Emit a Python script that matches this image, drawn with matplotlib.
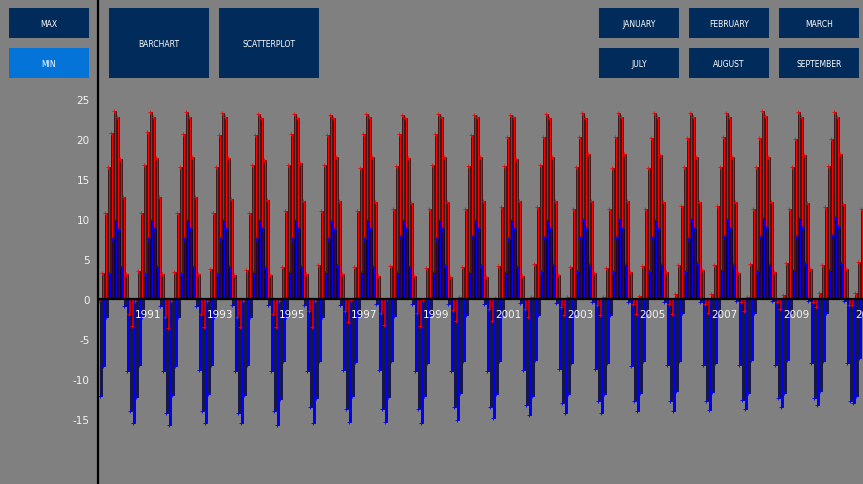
import numpy as np
import matplotlib
matplotlib.use("Agg")
import matplotlib.pyplot as plt
from matplotlib.patches import Rectangle

# ---------------- data ----------------
years = list(range(1990, 2012))
months = ["Jan", "Feb", "Mar", "Apr", "May", "Jun",
          "Jul", "Aug", "Sep", "Oct", "Nov", "Dec"]

max_temps = [
    [-0.2, 3.2, 10.8, 16.5, 20.7, 23.5, 22.8, 17.5, 12.8, 3.1, -1.9, -3.4],  # 1990
    [-0.3, 3.5, 10.8, 16.7, 20.9, 23.4, 22.8, 17.6, 12.7, 3.1, -2.2, -3.6],  # 1991
    [-0.3, 3.4, 10.8, 16.5, 20.6, 23.4, 22.8, 17.8, 12.7, 3.1, -1.9, -3.5],  # 1992
    [-0.2, 3.8, 10.8, 16.5, 20.5, 23.2, 22.7, 17.6, 12.5, 3.0, -2.2, -3.5],  # 1993
    [-0.2, 3.6, 10.8, 16.7, 20.5, 23.1, 22.6, 17.4, 12.4, 3.0, -1.9, -3.5],  # 1994
    [-0.3, 4.0, 11.0, 16.7, 20.6, 23.1, 22.6, 17.0, 12.3, 3.1, -1.5, -3.5],  # 1995
    [-0.2, 4.2, 11.0, 16.7, 20.5, 23.0, 22.6, 17.8, 12.2, 3.1, -1.5, -2.9],  # 1996
    [-0.1, 4.0, 11.0, 16.4, 20.6, 23.1, 22.7, 17.7, 12.1, 2.9, -1.8, -3.3],  # 1997
    [0.0, 4.1, 11.2, 16.6, 20.6, 23.0, 22.6, 17.6, 12.0, 2.9, -1.7, -3.4],   # 1998
    [-0.1, 3.9, 11.3, 16.7, 20.6, 23.1, 22.8, 17.8, 12.1, 2.8, -1.4, -2.8],  # 1999
    [0.2, 4.0, 11.3, 16.6, 20.5, 23.0, 22.7, 17.7, 12.2, 2.8, -1.3, -2.7],   # 2000
    [0.1, 4.1, 11.5, 16.6, 20.3, 23.0, 22.7, 17.5, 12.2, 2.9, -1.2, -2.2],   # 2001
    [0.3, 4.4, 11.5, 16.7, 20.3, 23.1, 22.6, 17.8, 12.2, 3.0, -1.0, -2.0],   # 2002
    [0.2, 4.0, 11.3, 16.5, 20.3, 23.3, 22.6, 18.1, 12.2, 3.2, -0.7, -2.0],   # 2003
    [0.3, 3.9, 11.3, 16.4, 20.3, 23.3, 22.7, 18.1, 12.2, 3.4, -0.6, -1.9],   # 2004
    [0.4, 4.1, 11.3, 16.4, 20.1, 23.3, 22.7, 18.0, 12.1, 3.4, -0.6, -1.9],   # 2005
    [0.6, 4.3, 11.6, 16.5, 20.1, 23.3, 22.8, 17.8, 12.1, 3.6, -0.6, -1.7],   # 2006
    [0.6, 4.2, 11.6, 16.5, 20.3, 23.3, 22.7, 17.8, 12.1, 3.3, -0.4, -1.5],   # 2007
    [0.3, 4.4, 11.3, 16.5, 20.1, 23.5, 22.9, 17.8, 12.1, 3.4, -0.4, -1.2],   # 2008
    [0.5, 4.5, 11.3, 16.5, 20.0, 23.4, 22.8, 18.0, 12.0, 3.7, -0.4, -1.0],   # 2009
    [0.8, 4.2, 11.5, 16.6, 20.0, 23.4, 22.8, 18.1, 11.9, 3.7, -0.7, -0.8],   # 2010
    [0.8, 4.6, 11.3],                                                        # 2011
]

min_temps = [
    [-12.1, -8.4, -2.3, 3.1, 7.5, 9.7, 8.6, 4.0, -0.9, -9.0, -14.0, -15.5],  # 1990
    [-12.2, -8.3, -2.3, 3.1, 7.5, 9.7, 8.7, 4.0, -0.9, -9.0, -14.2, -15.8],  # 1991
    [-12.0, -8.4, -2.3, 3.1, 7.5, 9.7, 8.7, 4.0, -0.9, -8.9, -14.0, -15.5],  # 1992
    [-11.9, -8.2, -2.3, 3.1, 7.5, 9.7, 8.7, 4.0, -0.8, -9.0, -14.2, -15.5],  # 1993
    [-12.0, -8.2, -2.2, 3.2, 7.5, 9.7, 8.7, 3.9, -0.8, -9.0, -14.0, -15.7],  # 1994
    [-12.5, -7.8, -2.2, 3.2, 7.5, 9.7, 8.7, 4.0, -0.8, -9.0, -13.5, -15.5],  # 1995
    [-12.4, -7.7, -2.2, 3.2, 7.5, 9.6, 8.6, 4.1, -0.7, -8.9, -13.7, -15.4],  # 1996
    [-12.1, -7.9, -2.1, 3.3, 7.5, 9.7, 8.7, 4.0, -0.6, -8.9, -13.8, -15.4],  # 1997
    [-12.2, -7.8, -2.1, 3.3, 7.7, 9.7, 8.8, 4.0, -0.6, -9.0, -13.7, -15.5],  # 1998
    [-12.1, -8.0, -2.0, 3.3, 7.5, 9.7, 8.7, 4.1, -0.6, -9.0, -13.5, -15.1],  # 1999
    [-11.8, -7.8, -2.0, 3.3, 7.7, 9.7, 8.8, 4.1, -0.6, -9.0, -13.5, -14.9],  # 2000
    [-11.9, -7.7, -2.0, 3.3, 7.5, 9.8, 8.8, 4.0, -0.5, -8.9, -13.3, -14.5],  # 2001
    [-12.1, -7.6, -2.0, 3.4, 7.6, 9.8, 8.8, 4.2, -0.5, -8.8, -13.0, -14.2],  # 2002
    [-11.9, -8.0, -1.9, 3.4, 7.6, 9.9, 8.7, 4.3, -0.4, -8.7, -12.7, -14.2],  # 2003
    [-11.9, -8.0, -2.0, 3.4, 7.6, 9.9, 8.8, 4.2, -0.4, -8.4, -12.7, -14.0],  # 2004
    [-11.7, -7.8, -1.8, 3.4, 7.6, 9.8, 8.8, 4.3, -0.4, -8.3, -12.7, -14.0],  # 2005
    [-11.5, -7.7, -1.8, 3.4, 7.5, 9.9, 8.8, 4.4, -0.4, -8.2, -12.7, -13.9],  # 2006
    [-11.6, -8.0, -1.8, 3.5, 7.8, 9.9, 8.8, 4.3, -0.3, -8.3, -12.6, -13.8],  # 2007
    [-11.8, -7.6, -1.8, 3.4, 7.7, 10.0, 8.9, 4.3, -0.3, -8.3, -12.4, -13.5], # 2008
    [-11.7, -7.6, -1.8, 3.5, 7.7, 10.0, 8.9, 4.4, -0.3, -8.0, -12.4, -13.3], # 2009
    [-11.5, -7.7, -1.8, 3.5, 7.9, 10.1, 9.0, 4.4, -0.3, -8.0, -12.7, -13.0], # 2010
    [-12.1, -7.4, -1.7],                                                     # 2011
]

y_ticks = [-15, -10, -5, 0, 5, 10, 15, 20, 25]
year_labels = [1991, 1993, 1995, 1997, 1999, 2001, 2003, 2005, 2007, 2009, 2011]

left_buttons = ["MAX", "MIN"]
chart_buttons = ["BARCHART", "SCATTERPLOT"]
month_buttons_top = ["JANUARY", "FEBRUARY", "MARCH"]
month_buttons_bottom = ["JULY", "AUGUST", "SEPTEMBER"]

# ---------------- figure ----------------
W, H = 863, 485
BG = "#808080"
NAVY = "#012b5a"
ACTIVE = "#0474d9"
TXT = "#f4f4f4"

fig = plt.figure(figsize=(W / 100, H / 100), dpi=100, facecolor=BG)

tmax = np.concatenate([np.array(r, dtype=float) for r in max_temps])
tmin = np.concatenate([np.array(r, dtype=float) for r in min_temps])
idx = np.arange(len(tmax))

ax = fig.add_axes([98 / W, 0, (W - 98) / W, 1])
ax.set_facecolor("none")
ax.set_xlim(-1 / 3, (W - 99) / 3)
ax.set_ylim(-(H - 300) / 8, 300 / 8)

# red (max) bars, blue (min) bars on top, then negative red bars over blue
ax.bar(idx, tmax, width=2 / 3, align="edge", color="#ff0000",
       edgecolor="black", linewidth=0.45, zorder=2)
ax.bar(idx + 1 / 3, tmin, width=2 / 3, align="edge", color="#0000ff",
       edgecolor="black", linewidth=0.45, zorder=3)
neg = tmax < 0
ax.bar(idx[neg], tmax[neg], width=1 / 2, align="edge", color="#ff0000",
       edgecolor="black", linewidth=0.35, zorder=3.5)
ax.plot(idx, tmax, linestyle="none", marker="+", ms=2.2, mew=0.6,
        color="#ff0000", zorder=4)
ax.plot(idx + 1 / 3, tmin, linestyle="none", marker="+", ms=2.2, mew=0.6,
        color="#0000ff", zorder=4)

ax.axhline(0, color="black", lw=1.6, zorder=5)

for s in ["top", "right", "bottom"]:
    ax.spines[s].set_visible(False)
ax.spines["left"].set_color("black")
ax.spines["left"].set_linewidth(1.6)
ax.spines["left"].set_zorder(6)

ax.set_yticks(y_ticks)
ax.set_yticklabels([str(t) for t in y_ticks], color=TXT, fontsize=7.5)
ax.tick_params(axis="y", length=0, pad=6)
ax.set_xticks([])

for yr in year_labels:
    m = (yr - years[0]) * 12
    ax.text(m, -1.9, str(yr), color=TXT, fontsize=7.5, ha="left",
            va="center", zorder=7, clip_on=True)

# ---------------- buttons (overlay) ----------------
ov = fig.add_axes([0, 0, 1, 1])
ov.set_xlim(0, W)
ov.set_ylim(H, 0)
ov.axis("off")
ov.patch.set_alpha(0)


def button(x, y, w, h, label, color=NAVY):
    ov.add_patch(Rectangle((x, y), w, h, facecolor=color, edgecolor="none"))
    ov.text(x + w / 2, y + h / 2 + 0.5, label, color="white", fontsize=5.5,
            ha="center", va="center", family="DejaVu Sans")


button(9, 9, 80, 30, left_buttons[0])
button(9, 49, 80, 30, left_buttons[1], ACTIVE)
button(109, 9, 100, 70, chart_buttons[0])
button(219, 9, 100, 70, chart_buttons[1])
for k, lab in enumerate(month_buttons_top):
    button(599 + 90 * k, 9, 80, 30, lab)
for k, lab in enumerate(month_buttons_bottom):
    button(599 + 90 * k, 49, 80, 30, lab)

fig.savefig("out.png", dpi=100, facecolor=BG)
